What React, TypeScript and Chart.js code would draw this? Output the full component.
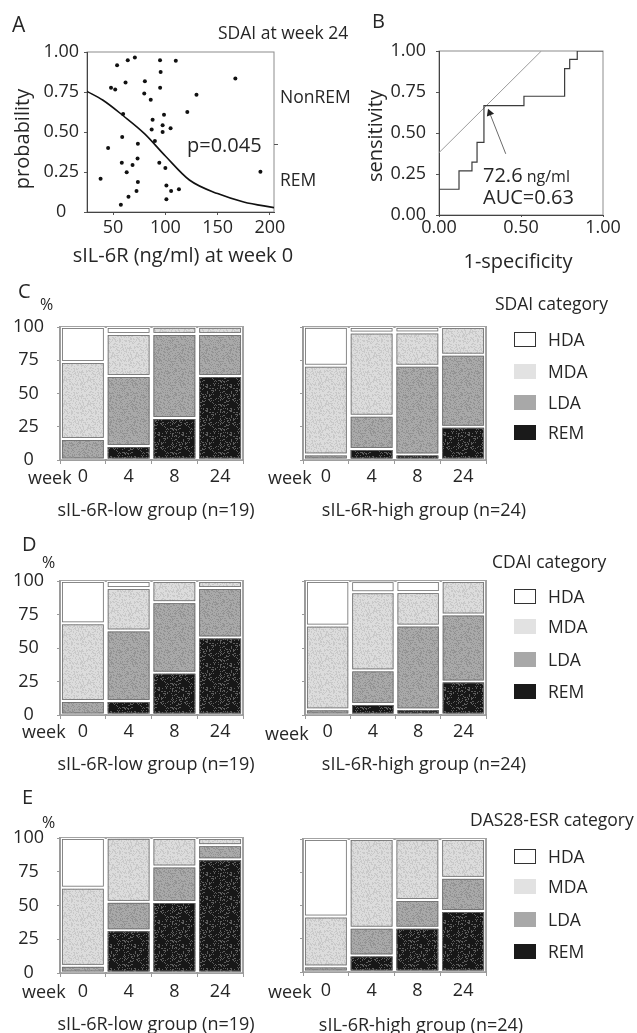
import React, { useEffect, useRef } from 'react';
import { Chart, registerables } from 'chart.js';

Chart.register(...registerables);

const FONT = '"Open Sans", "DejaVu Sans", sans-serif';
const INK = '#262626';

// ---------- Panel A: SDAI at week 24 ----------
const sil6rWeek0 = [53.8, 64, 70.8, 94.9, 110, 95.5, 61.9, 80.4, 167, 48, 52, 95, 79.8, 86, 129.8, 59.6, 98.7, 121, 87.8, 97.4, 86.9, 105, 97.4, 58.7, 90, 45.2, 73.7, 73.4, 58.3, 68.6, 94.2, 63, 100, 38, 73.7, 191, 101, 113, 105.5, 72.4, 64.7, 101, 57.4];
const remProbability = [0.917, 0.948, 0.965, 0.948, 0.946, 0.875, 0.81, 0.817, 0.835, 0.777, 0.765, 0.777, 0.74, 0.702, 0.733, 0.613, 0.608, 0.625, 0.577, 0.542, 0.515, 0.523, 0.5, 0.469, 0.444, 0.4, 0.427, 0.335, 0.308, 0.294, 0.308, 0.248, 0.275, 0.208, 0.188, 0.252, 0.165, 0.142, 0.131, 0.131, 0.096, 0.079, 0.046];
const fitX = [25, 40, 60, 80, 100, 123, 150, 175, 204];
const fitY = [0.754, 0.7, 0.6, 0.49, 0.35, 0.2, 0.115, 0.063, 0.027];
const aXTicks = [50, 100, 150, 200];
const aYTicks = [0, 0.25, 0.5, 0.75, 1];
const aCutTick = [0.42];

// ---------- Panel B: ROC ----------
const rocFpr = [0, 0, 0.122, 0.201, 0.232, 0.274, 0.518, 0.766, 0.797, 0.843, 1];
const rocTpr = [0, 0.157, 0.269, 0.322, 0.443, 0.667, 0.724, 0.892, 0.949, 1, 1];
const tangentX = [0, 0.624];
const tangentY = [0.38, 1];
const arrowX = [0.407, 0.309];
const arrowY = [0.373, 0.622];
const bXTicks = [0, 0.5, 1];
const bYTicks = [0, 0.25, 0.5, 0.75, 1];

// ---------- Panels C-E: categories ----------
const weeks = ['0', '4', '8', '24'];
const categories = ['HDA', 'MDA', 'LDA', 'REM'];
const pctTicks = [0, 25, 50, 75, 100];

const sdaiLowREM = [0, 10.5, 31.6, 63.2];
const sdaiLowLDA = [15.8, 52.6, 63.2, 31.6];
const sdaiLowMDA = [57.9, 31.6, 5.3, 5.3];
const sdaiLowHDA = [26.3, 5.3, 0, 0];

const sdaiHighREM = [0, 8.3, 4.2, 25];
const sdaiHighLDA = [4.2, 25, 66.7, 54.2];
const sdaiHighMDA = [66.7, 62.5, 25, 20.8];
const sdaiHighHDA = [29.2, 4.2, 4.2, 0];

const cdaiLowREM = [0, 10.5, 31.6, 57.9];
const cdaiLowLDA = [10.5, 52.6, 52.6, 36.8];
const cdaiLowMDA = [57.9, 31.6, 15.8, 5.3];
const cdaiLowHDA = [31.6, 5.3, 0, 0];

const cdaiHighREM = [0, 8.3, 4.2, 25];
const cdaiHighLDA = [4.2, 25, 62.5, 50];
const cdaiHighMDA = [62.5, 58.3, 25, 25];
const cdaiHighHDA = [33.3, 8.3, 8.3, 0];

const dasLowREM = [0, 31.6, 52.6, 84.2];
const dasLowLDA = [5.3, 21.1, 26.3, 10.5];
const dasLowMDA = [57.9, 47.4, 21.1, 5.3];
const dasLowHDA = [36.8, 0, 0, 0];

const dasHighREM = [0, 12.5, 33.3, 45.8];
const dasHighLDA = [4.2, 20.8, 20.8, 25];
const dasHighMDA = [37.5, 66.7, 45.8, 29.2];
const dasHighHDA = [58.3, 0, 0, 0];

const setTicks = (vals: number[]) => (s: any) => {
  s.ticks = vals.map((v) => ({ value: v }));
};
const fixW = (w: number) => (s: any) => {
  s.width = w;
};
const fixH = (h: number) => (s: any) => {
  s.height = h;
};

const framePlugin = {
  id: 'frame',
  beforeDraw(chart: any, _a: any, opts: any) {
    const { ctx, chartArea } = chart;
    const { left, top, right, bottom } = chartArea;
    ctx.save();
    ctx.strokeStyle = opts.color || '#999';
    ctx.lineWidth = opts.width || 1;
    ctx.strokeRect(left, top, right - left, bottom - top);
    ctx.restore();
  },
};

const segPlugin = {
  id: 'seg',
  afterDatasetsDraw(chart: any) {
    const ctx = chart.ctx;
    ctx.save();
    ctx.strokeStyle = '#6c6c6c';
    ctx.lineWidth = 0.8;
    chart.data.datasets.forEach((_d: any, i: number) => {
      const meta = chart.getDatasetMeta(i);
      meta.data.forEach((el: any) => {
        const p = el.getProps(['x', 'y', 'base', 'width'], true);
        const top = Math.min(p.y, p.base);
        const h = Math.abs(p.base - p.y);
        if (h < 3) return;
        ctx.strokeRect(p.x - p.width / 2 + 1.5, top + 1.5, p.width - 3, h - 3);
      });
    });
    ctx.restore();
  },
};

function texture(base: string, speck: string, every: number, seed: number) {
  const c = document.createElement('canvas');
  c.width = 24;
  c.height = 24;
  const g = c.getContext('2d')!;
  g.fillStyle = base;
  g.fillRect(0, 0, 24, 24);
  g.fillStyle = speck;
  let s = seed;
  for (let i = 0; i < 24 * 24; i++) {
    s = (s * 1103515245 + 12345) & 0x7fffffff;
    if (((s >> 16) % every) === 0) g.fillRect(i % 24, Math.floor(i / 24), 1, 1);
  }
  return g.createPattern(c, 'repeat') as CanvasPattern;
}

type Geo = { canvas: number[]; area: number[] };

function barConfig(series: number[][], geo: Geo, showY: boolean, xPad: number, pats: any) {
  const [rem, lda, mda, hda] = series;
  const [cl, ct, cw, ch] = geo.canvas;
  const [al, at, ar, ab] = geo.area;
  const xh = 30;
  const fills = [pats.rem, pats.lda, pats.mda, '#ffffff'];
  const names = ['REM', 'LDA', 'MDA', 'HDA'];
  return {
    type: 'bar',
    data: {
      labels: weeks,
      datasets: [rem, lda, mda, hda].map((d, i) => ({
        label: names[i],
        data: d,
        backgroundColor: fills[i],
        borderColor: '#ffffff',
        borderWidth: 1,
        borderSkipped: false,
        categoryPercentage: 0.96,
        barPercentage: 1,
      })),
    },
    options: {
      animation: false,
      responsive: false,
      events: [],
      layout: { padding: { left: 0, top: at - ct, right: cl + cw - ar, bottom: ct + ch - ab - xh } },
      plugins: { legend: { display: false }, tooltip: { enabled: false }, frame: { color: '#a3a3a3', width: 2 } },
      scales: {
        x: {
          stacked: true,
          afterFit: fixH(xh),
          ticks: { font: { size: 18, family: FONT }, color: INK, padding: xPad, maxRotation: 0, autoSkip: false },
          grid: { drawOnChartArea: false, tickLength: 4, color: '#9a9a9a' },
          border: { color: '#9a9a9a', width: 1.5 },
        },
        y: {
          stacked: true,
          min: 0,
          max: 100,
          afterBuildTicks: setTicks(pctTicks),
          afterFit: fixW(al - cl),
          ticks: { display: showY, font: { size: 18, family: FONT }, color: INK, crossAlign: 'center', padding: 13 },
          grid: { drawOnChartArea: false, tickLength: 3, color: '#9a9a9a' },
          border: { color: '#9a9a9a', width: 1.5 },
        },
      },
    },
    plugins: [framePlugin, segPlugin],
  } as any;
}

function T(props: { x: number; y: number; s?: number; mid?: boolean; rot?: boolean; children: any }) {
  const { x, y, s = 18, mid, rot, children } = props;
  const tx = mid || rot ? '-50%' : '0';
  return (
    <div
      style={{
        position: 'absolute',
        left: x,
        top: y,
        fontSize: s,
        lineHeight: 1,
        whiteSpace: 'nowrap',
        color: INK,
        fontFamily: FONT,
        transform: `translate(${tx}, -50%)${rot ? ' rotate(-90deg)' : ''}`,
      }}
    >
      {children}
    </div>
  );
}

const legendSwatch: Record<string, any> = {
  HDA: { background: '#ffffff', border: '1px solid #333' },
  MDA: { background: '#e2e2e2' },
  LDA: { background: '#a8a8a8' },
  REM: { background: '#1a1a1a' },
};

function Legend(props: { title: string; tx: number; ty: number; ys: number[] }) {
  const { title, tx, ty, ys } = props;
  return (
    <>
      <T x={tx} y={ty} s={17.5}>{title}</T>
      {categories.map((c, i) => (
        <React.Fragment key={c}>
          <div
            style={{
              position: 'absolute',
              left: 514,
              top: ys[i] - 8,
              width: 22,
              height: 15,
              boxSizing: 'border-box',
              ...legendSwatch[c],
            }}
          />
          <T x={548} y={ys[i]} s={17.5}>{c}</T>
        </React.Fragment>
      ))}
    </>
  );
}

const barGeos: Geo[] = [
  { canvas: [0, 300, 262, 200], area: [60, 327, 243, 460] },
  { canvas: [262, 300, 240, 200], area: [303, 327, 486, 460] },
  { canvas: [0, 555, 262, 200], area: [60, 581, 243, 715] },
  { canvas: [262, 555, 240, 200], area: [305, 581, 486, 715] },
  { canvas: [0, 812, 262, 200], area: [60, 838, 243, 973] },
  { canvas: [262, 812, 240, 200], area: [303, 839, 486, 972] },
];

export default function App() {
  const aRef = useRef<HTMLCanvasElement>(null);
  const bRef = useRef<HTMLCanvasElement>(null);
  const barRefs = [
    useRef<HTMLCanvasElement>(null),
    useRef<HTMLCanvasElement>(null),
    useRef<HTMLCanvasElement>(null),
    useRef<HTMLCanvasElement>(null),
    useRef<HTMLCanvasElement>(null),
    useRef<HTMLCanvasElement>(null),
  ];

  useEffect(() => {
    Chart.defaults.font.family = FONT;
    Chart.defaults.color = INK;
    const charts: Chart[] = [];
    const pats = {
      rem: texture('#171717', '#5c5c5c', 5, 7),
      lda: texture('#a9a9a9', '#939393', 3, 11),
      mda: texture('#dcdcdc', '#c9c9c9', 3, 13),
    };

    charts.push(
      new Chart(aRef.current!, {
        type: 'scatter',
        data: {
          datasets: [
            {
              label: 'patients',
              data: sil6rWeek0.map((x, i) => ({ x, y: remProbability[i] })),
              pointRadius: 2,
              pointBackgroundColor: '#111',
              pointBorderWidth: 0,
              showLine: false,
            },
            {
              label: 'fit',
              data: fitX.map((x, i) => ({ x, y: fitY[i] })),
              showLine: true,
              pointRadius: 0,
              borderColor: '#111',
              borderWidth: 1.6,
              cubicInterpolationMode: 'monotone',
            },
          ],
        },
        options: {
          animation: false,
          responsive: false,
          events: [],
          layout: { padding: { top: 52, right: 41, bottom: 8, left: 0 } },
          plugins: { legend: { display: false }, tooltip: { enabled: false }, frame: { color: '#8c8c8c', width: 1 } },
          scales: {
            x: {
              type: 'linear',
              min: 25,
              max: 204,
              afterBuildTicks: setTicks(aXTicks),
              afterFit: fixH(30),
              ticks: { font: { size: 18 }, color: INK, padding: 2, maxRotation: 0, autoSkip: false },
              grid: { drawOnChartArea: false, tickLength: 3, color: '#555' },
              border: { color: '#444' },
            },
            y: {
              type: 'linear',
              min: 0,
              max: 1,
              afterBuildTicks: setTicks(aYTicks),
              afterFit: fixW(87),
              ticks: {
                font: { size: 18 },
                color: INK,
                crossAlign: 'center',
                padding: 5,
                callback: (v: any) => (Number(v) === 0 ? '0' : Number(v).toFixed(2)),
              },
              grid: { drawOnChartArea: false, tickLength: 3, color: '#555' },
              border: { color: '#444' },
            },
            y2: {
              type: 'linear',
              position: 'right',
              min: 0,
              max: 1,
              afterBuildTicks: setTicks(aCutTick),
              afterFit: fixW(5),
              ticks: { display: false },
              grid: { drawOnChartArea: false, tickLength: 4, color: '#555' },
              border: { display: false },
            },
          },
        },
        plugins: [framePlugin],
      } as any)
    );

    charts.push(
      new Chart(bRef.current!, {
        type: 'scatter',
        data: {
          datasets: [
            {
              label: 'ROC',
              data: rocFpr.map((x, i) => ({ x, y: rocTpr[i] })),
              showLine: true,
              stepped: 'before',
              borderColor: '#3c3c3c',
              borderWidth: 1.2,
              pointRadius: 0,
            },
            {
              label: 'tangent',
              data: tangentX.map((x, i) => ({ x, y: tangentY[i] })),
              showLine: true,
              borderColor: '#9c9c9c',
              borderWidth: 1,
              pointRadius: 0,
            },
            {
              label: 'cut-off',
              data: arrowX.map((x, i) => ({ x, y: arrowY[i] })),
              showLine: true,
              borderColor: '#6a6a6a',
              borderWidth: 1,
              pointRadius: [0, 4.5],
              pointStyle: 'triangle',
              pointRotation: -21.5,
              pointBackgroundColor: '#222',
              pointBorderWidth: 0,
            },
          ],
        },
        options: {
          animation: false,
          responsive: false,
          events: [],
          layout: { padding: { top: 51, right: 34, bottom: 7, left: 0 } },
          plugins: { legend: { display: false }, tooltip: { enabled: false }, frame: { color: '#8c8c8c', width: 1 } },
          scales: {
            x: {
              type: 'linear',
              min: 0,
              max: 1,
              afterBuildTicks: setTicks(bXTicks),
              afterFit: fixH(28),
              ticks: { font: { size: 18 }, color: INK, padding: 0, maxRotation: 0, autoSkip: false, callback: (v: any) => Number(v).toFixed(2) },
              grid: { drawOnChartArea: false, tickLength: 2, color: '#555' },
              border: { color: '#444' },
            },
            y: {
              type: 'linear',
              min: 0,
              max: 1,
              afterBuildTicks: setTicks(bYTicks),
              afterFit: fixW(119),
              ticks: { font: { size: 18 }, color: INK, padding: 10, callback: (v: any) => Number(v).toFixed(2) },
              grid: { drawOnChartArea: false, tickLength: 3, color: '#555' },
              border: { color: '#444' },
            },
          },
        },
        plugins: [framePlugin],
      } as any)
    );

    const seriesList = [
      [sdaiLowREM, sdaiLowLDA, sdaiLowMDA, sdaiLowHDA],
      [sdaiHighREM, sdaiHighLDA, sdaiHighMDA, sdaiHighHDA],
      [cdaiLowREM, cdaiLowLDA, cdaiLowMDA, cdaiLowHDA],
      [cdaiHighREM, cdaiHighLDA, cdaiHighMDA, cdaiHighHDA],
      [dasLowREM, dasLowLDA, dasLowMDA, dasLowHDA],
      [dasHighREM, dasHighLDA, dasHighMDA, dasHighHDA],
    ];
    seriesList.forEach((series, i) => {
      charts.push(new Chart(barRefs[i].current!, barConfig(series, barGeos[i], i % 2 === 0, i >= 4 ? 4 : 2, pats)));
    });

    return () => charts.forEach((c) => c.destroy());
  }, []);

  return (
    <div style={{ position: 'absolute', left: 0, top: 0, width: 637, height: 1033, background: '#fff', overflow: 'hidden', fontFamily: FONT }}>
      <canvas ref={aRef} width={320} height={250} style={{ position: 'absolute', left: 0, top: 0 }} />
      <canvas ref={bRef} width={317} height={250} style={{ position: 'absolute', left: 320, top: 0 }} />
      {barGeos.map((g, i) => (
        <canvas
          key={i}
          ref={barRefs[i]}
          width={g.canvas[2]}
          height={g.canvas[3]}
          style={{ position: 'absolute', left: g.canvas[0], top: g.canvas[1] }}
        />
      ))}

      {/* Panel A */}
      <T x={12} y={24} s={21}>A</T>
      <T x={218} y={33} s={17.5}>SDAI at week 24</T>
      <T x={280} y={97} s={17.5}>NonREM</T>
      <T x={280} y={180} s={17.5}>REM</T>
      <T x={187} y={145} s={20}>p=0.045</T>
      <T x={22} y={139} s={20} rot>probability</T>
      <T x={183} y={255} s={20} mid>sIL-6R (ng/ml) at week 0</T>

      {/* Panel B */}
      <T x={372} y={21} s={20}>B</T>
      <T x={375} y={136} s={20} rot>sensitivity</T>
      <T x={518} y={261} s={20} mid>1-specificity</T>
      <T x={483} y={175} s={20}>
        72.6<span style={{ fontSize: 16 }}> ng/ml</span>
      </T>
      <T x={483} y={197} s={20}>AUC=0.63</T>

      {/* Panel C */}
      <T x={18} y={291} s={20}>C</T>
      <T x={40} y={304} s={16}>%</T>
      <T x={28} y={477} s={18}>week</T>
      <T x={268} y={477} s={18}>week</T>
      <T x={156} y={509} s={18} mid>sIL-6R-low group (n=19)</T>
      <T x={424} y={509} s={18} mid>sIL-6R-high group (n=24)</T>
      <Legend title="SDAI category" tx={495} ty={304} ys={[340, 372, 403, 433]} />

      {/* Panel D */}
      <T x={22} y={544} s={20}>D</T>
      <T x={42} y={562} s={16}>%</T>
      <T x={22} y={731} s={18}>week</T>
      <T x={265} y={733} s={18}>week</T>
      <T x={156} y={763} s={18} mid>sIL-6R-low group (n=19)</T>
      <T x={424} y={763} s={18} mid>sIL-6R-high group (n=24)</T>
      <Legend title="CDAI category" tx={492} ty={562} ys={[597, 627, 660, 692]} />

      {/* Panel E */}
      <T x={22} y={797} s={20}>E</T>
      <T x={42} y={822} s={16}>%</T>
      <T x={22} y={991} s={18}>week</T>
      <T x={268} y={991} s={18}>week</T>
      <T x={156} y={1023} s={18} mid>sIL-6R-low group (n=19)</T>
      <T x={421} y={1024} s={18} mid>sIL-6R-high group (n=24)</T>
      <Legend title="DAS28-ESR category" tx={470} ty={820} ys={[857, 887, 920, 952]} />
    </div>
  );
}
